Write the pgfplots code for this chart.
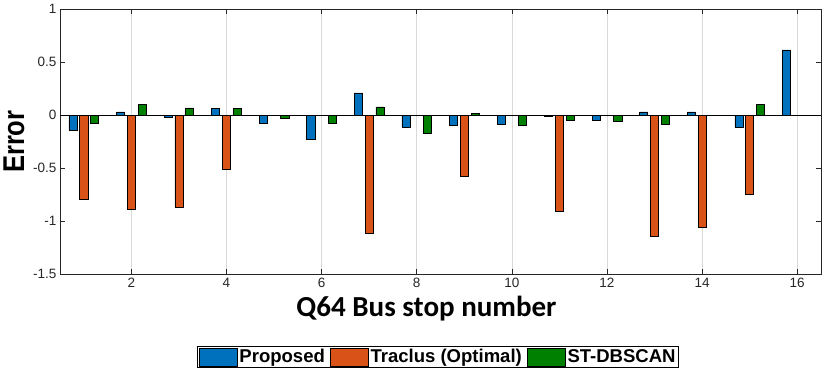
\documentclass[border=0pt]{standalone}
\usepackage{fontspec}
\setmainfont{Liberation Sans}
\newfontfamily\calfont{Carlito}
\usepackage{pgfplots}
\pgfplotsset{compat=1.18}
\definecolor{mblue}{RGB}{0,114,189}
\definecolor{morange}{RGB}{217,83,25}
\definecolor{mgreen}{RGB}{0,128,0}
\definecolor{tickgray}{RGB}{38,38,38}

\begin{document}
\begin{tikzpicture}
\begin{axis}[
    scale only axis,
    width=760pt,
    height=265pt,
    xmin=0.5, xmax=16.5,
    ymin=-1.5, ymax=1,
    xtick={2,4,...,16},
    ytick={-1.5,-1,-0.5,0,0.5,1},
    yticklabels={-1.5,-1,-0.5,0,0.5,1},
    /pgf/number format/assume math mode=true,
    tick label style={font=\fontsize{13.5}{15}\selectfont, text=tickgray},
    tick align=inside,
    major tick length=5pt,
    tick style={black!85, line width=0.6pt},
    axis line style={black!85, line width=0.8pt},
    xmajorgrids,
    grid style={black!15, line width=0.6pt},
    xlabel={\calfont\bfseries Q64 Bus stop number},
    ylabel={\bfseries Error},
    xlabel style={font=\fontsize{29}{31}\selectfont, yshift=-2pt, xshift=-14pt},
    ylabel style={font=\fontsize{30}{32}\selectfont, yshift=2pt, xscale=0.85},
    bar width=0.17,
    clip=false,
    legend columns=3,
    legend style={at={(0.497,-0.27)}, anchor=north, font=\fontsize{18.5}{20}\selectfont\bfseries,
        draw=black, line width=0.8pt, inner sep=1pt, row sep=0pt,
        /tikz/every even column/.append style={column sep=3pt}},
    legend image code/.code={\draw[#1, line width=0.6pt] (0pt,-9pt) rectangle (38pt,9pt);},
]
\addplot[ybar, bar shift=-0.227, fill=mblue, draw=black, line width=0.6pt] coordinates {
    (1,-0.14) (2,0.03) (3,-0.02) (4,0.06) (5,-0.075) (6,-0.225) (7,0.21) (8,-0.113)
    (9,-0.093) (10,-0.085) (11,-0.008) (12,-0.046) (13,0.03) (14,0.03) (15,-0.113) (16,0.615)
};
\addlegendentry{Proposed}
\addplot[ybar, bar shift=0, fill=morange, draw=black, line width=0.6pt] coordinates {
    (1,-0.79) (2,-0.885) (3,-0.865) (4,-0.508) (5,0) (6,0) (7,-1.11) (8,0)
    (9,-0.575) (10,0) (11,-0.905) (12,0) (13,-1.14) (14,-1.055) (15,-0.745) (16,0)
};
\addlegendentry{Traclus (Optimal)}
\addplot[ybar, bar shift=0.227, fill=mgreen, draw=black, line width=0.6pt] coordinates {
    (1,-0.075) (2,0.105) (3,0.068) (4,0.06) (5,-0.027) (6,-0.075) (7,0.077) (8,-0.17)
    (9,0.02) (10,-0.093) (11,-0.046) (12,-0.055) (13,-0.085) (14,0) (15,0.105) (16,0)
};
\addlegendentry{ST-DBSCAN}
\addplot[black, line width=0.8pt, forget plot] coordinates {(0.5,0) (16.5,0)};
\path (rel axis cs:1,1) ++(7pt,9pt);
\end{axis}
\end{tikzpicture}
\end{document}
